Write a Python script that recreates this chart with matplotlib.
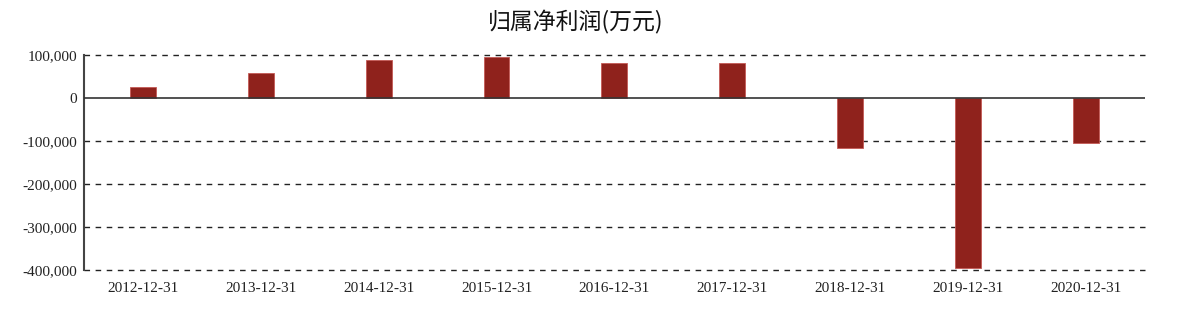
import matplotlib.pyplot as plt
from matplotlib.ticker import FuncFormatter

dates = ['2012-12-31', '2013-12-31', '2014-12-31', '2015-12-31', '2016-12-31',
         '2017-12-31', '2018-12-31', '2019-12-31', '2020-12-31']
profit = [25000, 58000, 88000, 96000, 81000, 82000, -116000, -396000, -104000]
yticks = [100000, 0, -100000, -200000, -300000, -400000]

fig = plt.figure(figsize=(12, 3.15), dpi=100)
ax = fig.add_axes([0.07, 0.1429, 0.884, 0.6825])

x = range(len(dates))
ax.bar(x, profit, width=0.22, color='#8f221c', edgecolor='#c45a55', linewidth=0.6, zorder=3)

ax.set_xlim(-0.5, len(dates) - 0.5)
ax.set_ylim(-400000, 100000)
ax.set_yticks(yticks)
ax.yaxis.set_major_formatter(FuncFormatter(lambda v, p: f'{int(v):,}'))
ax.set_xticks(list(x))
ax.set_xticklabels(dates)

for v in yticks:
    if v != 0:
        ax.axhline(v, color='#222222', linestyle=(0, (4, 4)), linewidth=1.0,
                   zorder=1, clip_on=False)
ax.axhline(0, color='#333333', linewidth=1.2, zorder=4)

for s in ['top', 'right', 'bottom']:
    ax.spines[s].set_visible(False)
ax.spines['left'].set_color('#444444')
ax.spines['left'].set_linewidth(1.5)
ax.tick_params(axis='both', length=0, labelsize=11, colors='#222222')
ax.tick_params(axis='x', pad=9)
ax.tick_params(axis='y', pad=5)
for lab in ax.get_xticklabels() + ax.get_yticklabels():
    lab.set_family('Liberation Serif')

fig.text(0.48, 0.93, '归属净利润(万元)', ha='center', va='center', fontsize=16.5,
         family=['Noto Sans CJK SC', 'DejaVu Sans'], color='#111111')

fig.savefig('out.png', dpi=100, facecolor='white')
